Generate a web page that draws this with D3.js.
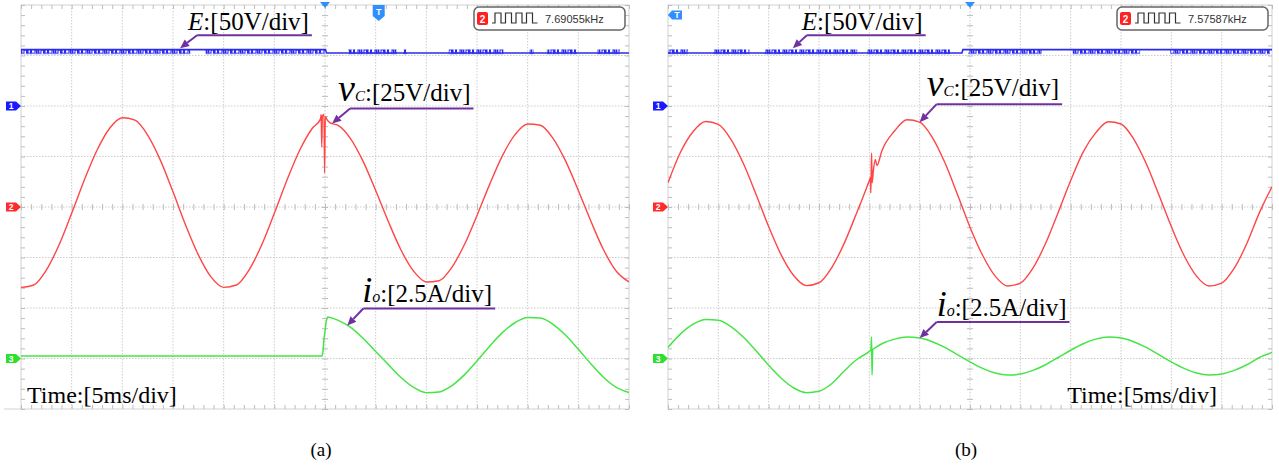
<!DOCTYPE html>
<html><head><meta charset="utf-8">
<script src="https://cdn.jsdelivr.net/npm/d3@7"></script>
<style>html,body{margin:0;padding:0;background:#fff;}svg{display:block}</style>
</head><body>
<svg id="c" width="1279" height="470"></svg>
<script>
// ---------------- DATA ----------------
// time axis: 12 divisions x 5 ms ; vertical: 8 divisions
const divTimes = [0,5,10,15,20,25,30,35,40,45,50,55,60];
const divLevels = [-4,-3,-2,-1,0,1,2,3,4];
const panelCaptions = ["(a)", "(b)"];
const freqLabels = ["7.69055kHz", "7.57587kHz"];
const timeLabel = "Time:[5ms/div]";

// v_C [V] (25 V/div, channel 2) — [time ms, volts]
const vcA = [[0,-39.8],[1.25,-38.6],[2.5,-31.2],[3.75,-18.8],[5,-3.1],[6.25,13.4],[7.5,28.1],[8.75,39.0],[10,44.2],[11.25,43.0],[12.5,35.6],[13.75,23.2],[15,7.5],[16.25,-9.0],[17.5,-23.7],[18.75,-34.6],[20,-39.8],[21.25,-38.6],[22.5,-31.2],[23.75,-18.8],[25,-3.1],[26.25,13.4],[27.5,28.1],[28.75,39.0],[29.55,43.5],[29.62,45.8],[29.68,29.7],[29.74,45.2],[29.9,45.8],[29.96,16.8],[30.03,44.8],[30.2,43.2],[30.5,41.6],[31.25,40.5],[32.5,34.0],[33.75,22.7],[35,8.2],[36.25,-7.2],[37.5,-21.3],[38.75,-31.8],[40,-37.1],[41.25,-36.5],[42.5,-30.0],[43.75,-18.7],[45,-4.2],[46.25,11.2],[47.5,25.3],[48.75,35.8],[50,41.1],[51.25,40.5],[52.5,34.0],[53.75,22.7],[55,8.2],[56.25,-7.2],[57.5,-21.3],[58.75,-31.8],[60,-37.1]];
const vcB = [[0,12.0],[1.25,27.2],[2.5,37.4],[3.75,42.3],[5,40.9],[6.25,33.5],[7.5,21.4],[8.75,6.2],[10,-9.7],[11.25,-23.8],[12.5,-34.0],[13.75,-38.9],[15,-37.5],[16.25,-30.1],[17.5,-18.0],[18.75,-2.8],[20,13.1],[20.1,14.5],[20.15,6.9],[20.22,26.7],[20.28,12.0],[20.4,18.0],[20.6,23.5],[20.75,20.5],[21.25,27.9],[22.5,37.6],[23.75,43.2],[25,42.0],[26.25,34.5],[27.5,22.0],[28.75,6.3],[30,-10.0],[31.25,-23.9],[32.5,-34.2],[33.75,-39.1],[35,-37.7],[36.25,-30.3],[37.5,-18.1],[38.75,-2.8],[40,13.1],[41.25,27.3],[42.5,36.8],[43.75,42.2],[45,41.1],[46.25,33.7],[47.5,21.5],[48.75,6.2],[50,-9.7],[51.25,-23.9],[52.5,-34.2],[53.75,-39.1],[55,-37.7],[56.25,-30.3],[57.5,-18.1],[58.75,-2.8],[60,10.0]];

// i_o [A] (2.5 A/div, channel 3)
const ioA = [[0,0.12],[5,0.12],[10,0.12],[15,0.12],[20,0.12],[25,0.12],[29.7,0.12],[29.8,0.35],[29.9,0.95],[30.0,1.35],[30.1,1.75],[30.25,2.05],[30.6,2.02],[31.25,1.9],[32.5,1.55],[33.75,1.0],[35,0.35],[36.25,-0.3],[37.5,-0.94],[38.75,-1.43],[40,-1.69],[41.25,-1.66],[42.5,-1.35],[43.75,-0.81],[45,-0.12],[46.25,0.61],[47.5,1.28],[48.75,1.77],[50,2.03],[51.25,2.0],[52.5,1.69],[53.75,1.15],[55,0.46],[56.25,-0.27],[57.5,-0.94],[58.75,-1.43],[60,-1.69]];
const ioB = [[0,0.55],[1.25,1.22],[2.5,1.70],[3.75,1.93],[5,1.89],[6.25,1.58],[7.5,1.05],[8.75,0.38],[10,-0.34],[11.25,-0.98],[12.5,-1.46],[13.75,-1.69],[15,-1.62],[16.25,-1.25],[17.5,-0.62],[18.75,-0.05],[20,0.35],[20.15,0.42],[20.22,1.06],[20.27,-0.82],[20.34,0.45],[20.5,0.5],[21.25,0.73],[22.5,0.96],[23.75,1.06],[25,1.01],[26.25,0.83],[27.5,0.55],[28.75,0.19],[30,-0.17],[31.25,-0.49],[32.5,-0.72],[33.75,-0.82],[35,-0.77],[36.25,-0.59],[37.5,-0.31],[38.75,0.05],[40,0.41],[41.25,0.73],[42.5,0.96],[43.75,1.06],[45,1.01],[46.25,0.83],[47.5,0.55],[48.75,0.19],[50,-0.17],[51.25,-0.49],[52.5,-0.72],[53.75,-0.82],[55,-0.77],[56.25,-0.59],[57.5,-0.31],[58.75,0.05],[60,0.3]];

// E [V] (50 V/div, channel 1): clean level breakpoints and switching-noise bursts [t0,t1]
const eLevelA = [[0,55.8],[30.05,55.8],[30.15,52.5],[60,52.5]];
const eBurstA = [[0,16.7],[18.2,30.0],[32.3,37.1],[37.7,38.1],[42.2,47.6],[50.2,50.6],[51.9,54.9],[56.9,59.1]];
const eLevelB = [[0,52.5],[29.2,52.5],[29.3,55.8],[60,55.8]];
const eBurstB = [[0,2.0],[4.5,8.1],[9.6,18.8],[19.8,28.0],[29.8,37.1],[40.2,46.9],[49.9,59.8]];
const eBand = [52.2, 56.2];

// ---------------- LAYOUT ----------------
const Y_TOP = 5, Y_BOT = 409;
const COL = {blue:"#2b2bf0", red:"#ff4646", green:"#45e545", grid:"#cccccc", tick:"#bdbdbd", purple:"#7030a0", trig:"#2f8fff"};
const SERIF = "'Liberation Serif','Times New Roman',serif";
const SANS = "'Liberation Sans',Arial,sans-serif";

const panels = [
  {x0:21, x1:629, vc:vcA, io:ioA, eLevel:eLevelA, eBurst:eBurstA, freq:freqLabels[0], caption:panelCaptions[0],
   timeX:6, timeAnchor:"start", trigT:35.3, trigLeft:false, bottomExt:17,
   ann:{E:{t:15.7,tx:8,ux:17,uy:-13}, vc:{t:30.7,tx:6,ux:18,uy:-15}, io:{t:32.2,tx:15,ux:16,uy:-17}}},
  {x0:668, x1:1272, vc:vcB, io:ioB, eLevel:eLevelB, eBurst:eBurstB, freq:freqLabels[1], caption:panelCaptions[1],
   timeX:-55, timeAnchor:"end", trigT:null, trigLeft:true, bottomExt:0,
   ann:{E:{t:12.4,tx:9,ux:14,uy:-13}, vc:{t:25.0,tx:7,ux:17,uy:-18}, io:{t:25.0,tx:17,ux:17,uy:-16}}}
];

const svg = d3.select("#c");
const defs = svg.append("defs");

function interp(data, t){
  const i = d3.bisector(d=>d[0]).left(data, t);
  if (i<=0) return data[0][1];
  if (i>=data.length) return data[data.length-1][1];
  const a=data[i-1], b=data[i];
  return a[1] + (b[1]-a[1])*(t-a[0])/(b[0]-a[0]);
}

panels.forEach((p, pi) => {
  const x = d3.scaleLinear().domain([0,60]).range([p.x0,p.x1]);
  const y = d3.scaleLinear().domain([-4,4]).range([Y_BOT,Y_TOP]);
  const chE = v => y(2 + v/50);
  const chV = v => y(0 + v/25);
  const chI = v => y(-3 + v/2.5);
  const g = svg.append("g");

  // grid
  const grid = g.append("g").attr("stroke", COL.grid).attr("stroke-dasharray","1.5,1.5");
  grid.selectAll("line.v").data(divTimes.slice(1,-1)).join("line")
    .attr("x1",d=>x(d)).attr("x2",d=>x(d)).attr("y1",Y_TOP).attr("y2",Y_BOT);
  grid.selectAll("line.h").data(divLevels.slice(1,-1)).join("line")
    .attr("x1",p.x0).attr("x2",p.x1).attr("y1",d=>y(d)).attr("y2",d=>y(d));
  // frame
  g.append("rect").attr("x",p.x0).attr("y",Y_TOP).attr("width",p.x1-p.x0).attr("height",Y_BOT-Y_TOP)
    .attr("fill","none").attr("stroke","#d2d2d2");
  if (p.bottomExt) g.append("line").attr("x1",p.x0-p.bottomExt).attr("x2",p.x0).attr("y1",Y_BOT).attr("y2",Y_BOT).attr("stroke","#d2d2d2");

  // minor ticks via axes
  const minorT = d3.range(0,60.001,1);
  const minorY = d3.range(-4,4.001,0.2);
  const tickAxes = [
    [d3.axisBottom(x).tickValues(minorT).tickSize(4), `translate(0,${Y_TOP})`],
    [d3.axisTop(x).tickValues(minorT).tickSize(4), `translate(0,${Y_BOT})`],
    [d3.axisRight(y).tickValues(minorY).tickSize(4), `translate(${p.x0},0)`],
    [d3.axisLeft(y).tickValues(minorY).tickSize(4), `translate(${p.x1},0)`],
    [d3.axisTop(x).tickValues(minorT).tickSize(3), `translate(0,${y(0)})`],
    [d3.axisBottom(x).tickValues(minorT).tickSize(3), `translate(0,${y(0)})`],
    [d3.axisLeft(y).tickValues(minorY).tickSize(3), `translate(${x(30)},0)`],
    [d3.axisRight(y).tickValues(minorY).tickSize(3), `translate(${x(30)},0)`]
  ];
  tickAxes.forEach(([ax, tr]) => {
    const a = g.append("g").attr("transform", tr).call(ax.tickFormat(""));
    a.select(".domain").remove();
    a.selectAll("line").attr("stroke", COL.tick);
  });

  // channel markers
  const markers = [{lvl:2,txt:"1",c:"#1a1aff"},{lvl:0,txt:"2",c:"#ff2a2a"},{lvl:-3,txt:"3",c:"#2ee02e"}];
  markers.forEach(m => {
    const cy = y(m.lvl), xr = p.x0;
    g.append("path").attr("d", `M${xr-15},${cy-4.5}H${xr-5}L${xr},${cy}L${xr-5},${cy+4.5}H${xr-15}Z`).attr("fill", m.c);
    g.append("text").attr("x", xr-10).attr("y", cy+3.2).attr("text-anchor","middle")
      .attr("font-family",SANS).attr("font-size",8.5).attr("font-weight","bold").attr("fill","#fff").text(m.txt);
  });

  // trigger markers
  const tx30 = x(30);
  g.append("path").attr("d", `M${tx30-5},${Y_TOP-3}H${tx30+5}L${tx30},${Y_TOP+3}Z`).attr("fill", COL.trig);
  if (p.trigT !== null) {
    const tx = x(p.trigT);
    g.append("path").attr("d", `M${tx-6},${Y_TOP}H${tx+6}V${Y_TOP+11}L${tx},${Y_TOP+16}L${tx-6},${Y_TOP+11}Z`).attr("fill", COL.trig);
    g.append("text").attr("x",tx).attr("y",Y_TOP+10).attr("text-anchor","middle").attr("font-family",SANS)
      .attr("font-size",9).attr("font-weight","bold").attr("fill","#fff").text("T");
  }
  if (p.trigLeft) {
    const xl = p.x0, cy = Y_TOP+10;
    g.append("path").attr("d", `M${xl},${cy}L${xl+4},${cy-4.5}H${xl+14}V${cy+4.5}H${xl+4}Z`).attr("fill", COL.trig);
    g.append("text").attr("x",xl+9).attr("y",cy+3.3).attr("text-anchor","middle").attr("font-family",SANS)
      .attr("font-size",9).attr("font-weight","bold").attr("fill","#fff").text("T");
  }

  // clip for traces
  const clipId = "clip"+pi;
  defs.append("clipPath").attr("id",clipId).append("rect")
    .attr("x",p.x0).attr("y",Y_TOP).attr("width",p.x1-p.x0).attr("height",Y_BOT-Y_TOP);
  const tr = g.append("g").attr("clip-path",`url(#${clipId})`);

  // E trace: level line + switching bursts (irregular PWM-like pattern)
  const bandTop = chE(eBand[1]), bandBot = chE(eBand[0]);
  const patId = "pwm"+pi;
  const h = bandBot-bandTop;
  const pat = defs.append("pattern").attr("id",patId).attr("patternUnits","userSpaceOnUse")
    .attr("x",0).attr("y",bandTop).attr("width",17).attr("height",h+1);
  pat.append("path").attr("d",`M0,${h}H1V0.7H2.5V${h}H4V0.7H4.8V${h}H7V0.7H9.5V${h}H10.3V0.7H11V${h}H13.5V0.7H14.5V${h}H17`)
    .attr("fill","none").attr("stroke",COL.blue).attr("stroke-width",1.1);
  tr.append("path").datum(p.eLevel)
    .attr("d", d3.line().x(d=>x(d[0])).y(d=>chE(d[1])))
    .attr("fill","none").attr("stroke",COL.blue).attr("stroke-width",1.6);
  tr.selectAll("rect.burst").data(p.eBurst).join("rect")
    .attr("x",d=>x(d[0])).attr("width",d=>x(d[1])-x(d[0]))
    .attr("y",bandTop).attr("height",h+1).attr("fill",`url(#${patId})`);

  // vc and io traces
  const lineV = d3.line().x(d=>x(d[0])).y(d=>chV(d[1])).curve(d3.curveMonotoneX);
  const lineI = d3.line().x(d=>x(d[0])).y(d=>chI(d[1])).curve(d3.curveMonotoneX);
  tr.append("path").datum(p.vc).attr("d",lineV).attr("fill","none").attr("stroke",COL.red).attr("stroke-width",1.4);
  tr.append("path").datum(p.io).attr("d",lineI).attr("fill","none").attr("stroke",COL.green).attr("stroke-width",1.5);

  // frequency box
  const bx = p.x1-155, by = 7;
  g.append("rect").attr("x",bx).attr("y",by).attr("width",151).attr("height",23).attr("rx",5)
    .attr("fill","#fff").attr("stroke","#666").attr("stroke-width",1.5);
  g.append("rect").attr("x",bx+3).attr("y",by+5).attr("width",11).attr("height",13).attr("rx",2).attr("fill","#ff2020");
  g.append("text").attr("x",bx+8.5).attr("y",by+15.5).attr("text-anchor","middle").attr("font-family",SANS)
    .attr("font-size",10).attr("font-weight","bold").attr("fill","#fff").text("2");
  const sw = d3.path(); let sx = bx+18; const lo = by+16, hi = by+6;
  sw.moveTo(sx,lo); sx+=3; sw.lineTo(sx,lo);
  for (let k=0;k<4;k++){ sw.lineTo(sx,hi); sx+=6; sw.lineTo(sx,hi); sw.lineTo(sx,lo); sx+= (k<3?4.5:5); sw.lineTo(sx,lo); }
  g.append("path").attr("d",sw.toString()).attr("fill","none").attr("stroke","#333").attr("stroke-width",1.2);
  g.append("text").attr("x",bx+71).attr("y",by+16).attr("font-family",SANS).attr("font-size",11)
    .attr("fill","#333").text(p.freq);

  // annotations
  function annotate(spec, tipY, build, baseOff){
    const tX = x(spec.t), tY = tipY;
    const uX = tX + spec.ux, uY = tY + spec.uy;
    const t = g.append("text").attr("x", tX+spec.tx).attr("y", uY+baseOff).attr("font-family",SERIF).attr("fill","#000");
    build(t);
    const bb = t.node().getBBox();
    const uEnd = bb.x + bb.width + 3;
    g.append("line").attr("x1",uX).attr("x2",uEnd).attr("y1",uY).attr("y2",uY)
      .attr("stroke",COL.purple).attr("stroke-width",2);
    const ang = Math.atan2(tY-uY, tX-uX);
    const L = 9, W2 = 4;
    const bxh = tX - L*Math.cos(ang), byh = tY - L*Math.sin(ang);
    g.append("line").attr("x1",uX).attr("y1",uY).attr("x2",bxh).attr("y2",byh)
      .attr("stroke",COL.purple).attr("stroke-width",2);
    g.append("path").attr("d",`M${tX},${tY}L${bxh + W2*Math.sin(ang)},${byh - W2*Math.cos(ang)}L${bxh - W2*Math.sin(ang)},${byh + W2*Math.cos(ang)}Z`)
      .attr("fill",COL.purple);
  }
  annotate(p.ann.E, chE(eBand[1])-1, t => {
    t.attr("font-size",25);
    t.append("tspan").attr("font-style","italic").text("E");
    t.append("tspan").text(":[50V/div]");
  }, -5);
  annotate(p.ann.vc, chV(interp(p.vc, p.ann.vc.t)), t => {
    t.attr("font-size",25);
    t.append("tspan").attr("font-style","italic").attr("font-size",38).text("v");
    t.append("tspan").attr("font-style","italic").attr("font-size",15).text("C");
    t.append("tspan").text(":[25V/div]");
  }, -8);
  annotate(p.ann.io, chI(interp(p.io, p.ann.io.t)), t => {
    t.attr("font-size",25);
    t.append("tspan").attr("font-style","italic").attr("font-size",36).text("i");
    t.append("tspan").attr("font-style","italic").attr("font-size",16).text("o");
    t.append("tspan").text(":[2.5A/div]");
  }, -6);

  // time label
  g.append("text").attr("x", p.timeAnchor==="start" ? p.x0+p.timeX : p.x1+p.timeX).attr("y", 403)
    .attr("text-anchor", p.timeAnchor).attr("font-family",SERIF).attr("font-size",24).attr("fill","#000").text(timeLabel);
  // caption
  g.append("text").attr("x", (p.x0+p.x1)/2 - 4).attr("y", 456).attr("text-anchor","middle")
    .attr("font-family",SERIF).attr("font-size",19).attr("fill","#000").text(p.caption);
});
</script>
</body></html>
